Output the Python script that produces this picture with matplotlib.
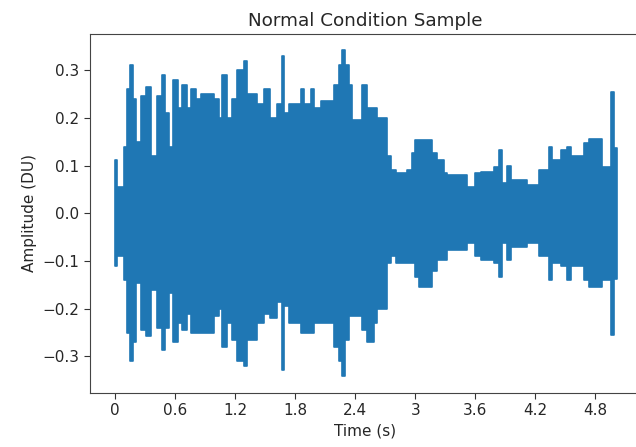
import matplotlib
matplotlib.use("Agg")
import matplotlib.pyplot as plt
import numpy as np

# Envelope of the waveform (segment start times, s)
seg_t = [0.000, 0.020, 0.090, 0.115, 0.148, 0.180, 0.205, 0.255, 0.305, 0.355,
         0.420, 0.470, 0.495, 0.538, 0.580, 0.628, 0.672, 0.722, 0.755, 0.805,
         0.855, 0.988, 1.038, 1.072, 1.122, 1.172, 1.222, 1.290, 1.322, 1.422,
         1.488, 1.545, 1.622, 1.665, 1.685, 1.740, 1.855, 1.890, 1.955, 1.990,
         2.055, 2.190, 2.240, 2.270, 2.295, 2.340, 2.370, 2.470, 2.520, 2.590,
         2.620, 2.720, 2.755, 2.805, 2.920, 2.970, 3.000, 3.040, 3.170, 3.220,
         3.290, 3.320, 3.520, 3.600, 3.655, 3.790, 3.840, 3.865, 3.920, 3.955,
         4.120, 4.240, 4.340, 4.370, 4.455, 4.520, 4.555, 4.690, 4.740, 4.870,
         4.960, 4.990, 5.020]
upper = [0.112, 0.056, 0.14, 0.26, 0.31, 0.24, 0.15, 0.245, 0.265, 0.12,
         0.245, 0.29, 0.21, 0.14, 0.28, 0.22, 0.27, 0.22, 0.26, 0.24,
         0.25, 0.24, 0.20, 0.29, 0.20, 0.24, 0.30, 0.32, 0.25, 0.23,
         0.26, 0.20, 0.23, 0.33, 0.21, 0.23, 0.26, 0.23, 0.26, 0.22,
         0.235, 0.27, 0.31, 0.343, 0.31, 0.27, 0.195, 0.27, 0.22, 0.22,
         0.20, 0.12, 0.09, 0.084, 0.09, 0.126, 0.154, 0.154, 0.126, 0.112,
         0.084, 0.08, 0.056, 0.084, 0.087, 0.098, 0.133, 0.063, 0.10, 0.07,
         0.06, 0.09, 0.14, 0.112, 0.133, 0.14, 0.12, 0.147, 0.155, 0.098,
         0.255, 0.136, 0.136]
lower = [-0.11, -0.09, -0.14, -0.25, -0.31, -0.27, -0.146, -0.244, -0.258, -0.16,
         -0.24, -0.286, -0.24, -0.167, -0.27, -0.23, -0.244, -0.21, -0.25, -0.25,
         -0.25, -0.216, -0.20, -0.28, -0.23, -0.265, -0.31, -0.32, -0.265, -0.23,
         -0.21, -0.22, -0.185, -0.328, -0.195, -0.23, -0.25, -0.25, -0.25, -0.23,
         -0.23, -0.28, -0.31, -0.342, -0.265, -0.216, -0.216, -0.244, -0.27, -0.23,
         -0.20, -0.105, -0.09, -0.105, -0.105, -0.105, -0.133, -0.154, -0.12, -0.098,
         -0.098, -0.077, -0.063, -0.09, -0.098, -0.105, -0.133, -0.063, -0.098, -0.07,
         -0.063, -0.09, -0.14, -0.105, -0.11, -0.14, -0.11, -0.14, -0.154, -0.14,
         -0.255, -0.137, -0.137]

xticks = [0, 0.6, 1.2, 1.8, 2.4, 3.0, 3.6, 4.2, 4.8]
xtick_labels = ["0", "0.6", "1.2", "1.8", "2.4", "3", "3.6", "4.2", "4.8"]
yticks = [-0.3, -0.2, -0.1, 0.0, 0.1, 0.2, 0.3]

fig = plt.figure(figsize=(6.36, 4.47), dpi=100)
ax = fig.add_axes([90 / 636, (447 - 392.7) / 447, 550.5 / 636, 358.7 / 447])

color = "#1f77b4"
ax.fill_between(seg_t, lower, upper, step="post", color=color,
                linewidth=1.2, edgecolor=color)

ax.set_xlim(-0.25, 5.25)
ax.set_ylim(-0.376, 0.376)
ax.set_xticks(xticks)
ax.set_xticklabels(xtick_labels)
ax.set_yticks(yticks)
ax.set_yticklabels([f"{v:.1f}".replace("-", "\u2212") for v in yticks])
ax.tick_params(labelsize=11, length=4, colors="#333333", labelcolor="#262626")
for s in ax.spines.values():
    s.set_color("#444444")
ax.set_xlabel("Time (s)", fontsize=11, color="#262626")
ax.set_ylabel("Amplitude (DU)", fontsize=11, color="#262626")
ax.set_title("Normal Condition Sample", fontsize=13.2, color="#262626")

fig.savefig("out.png", dpi=100)
